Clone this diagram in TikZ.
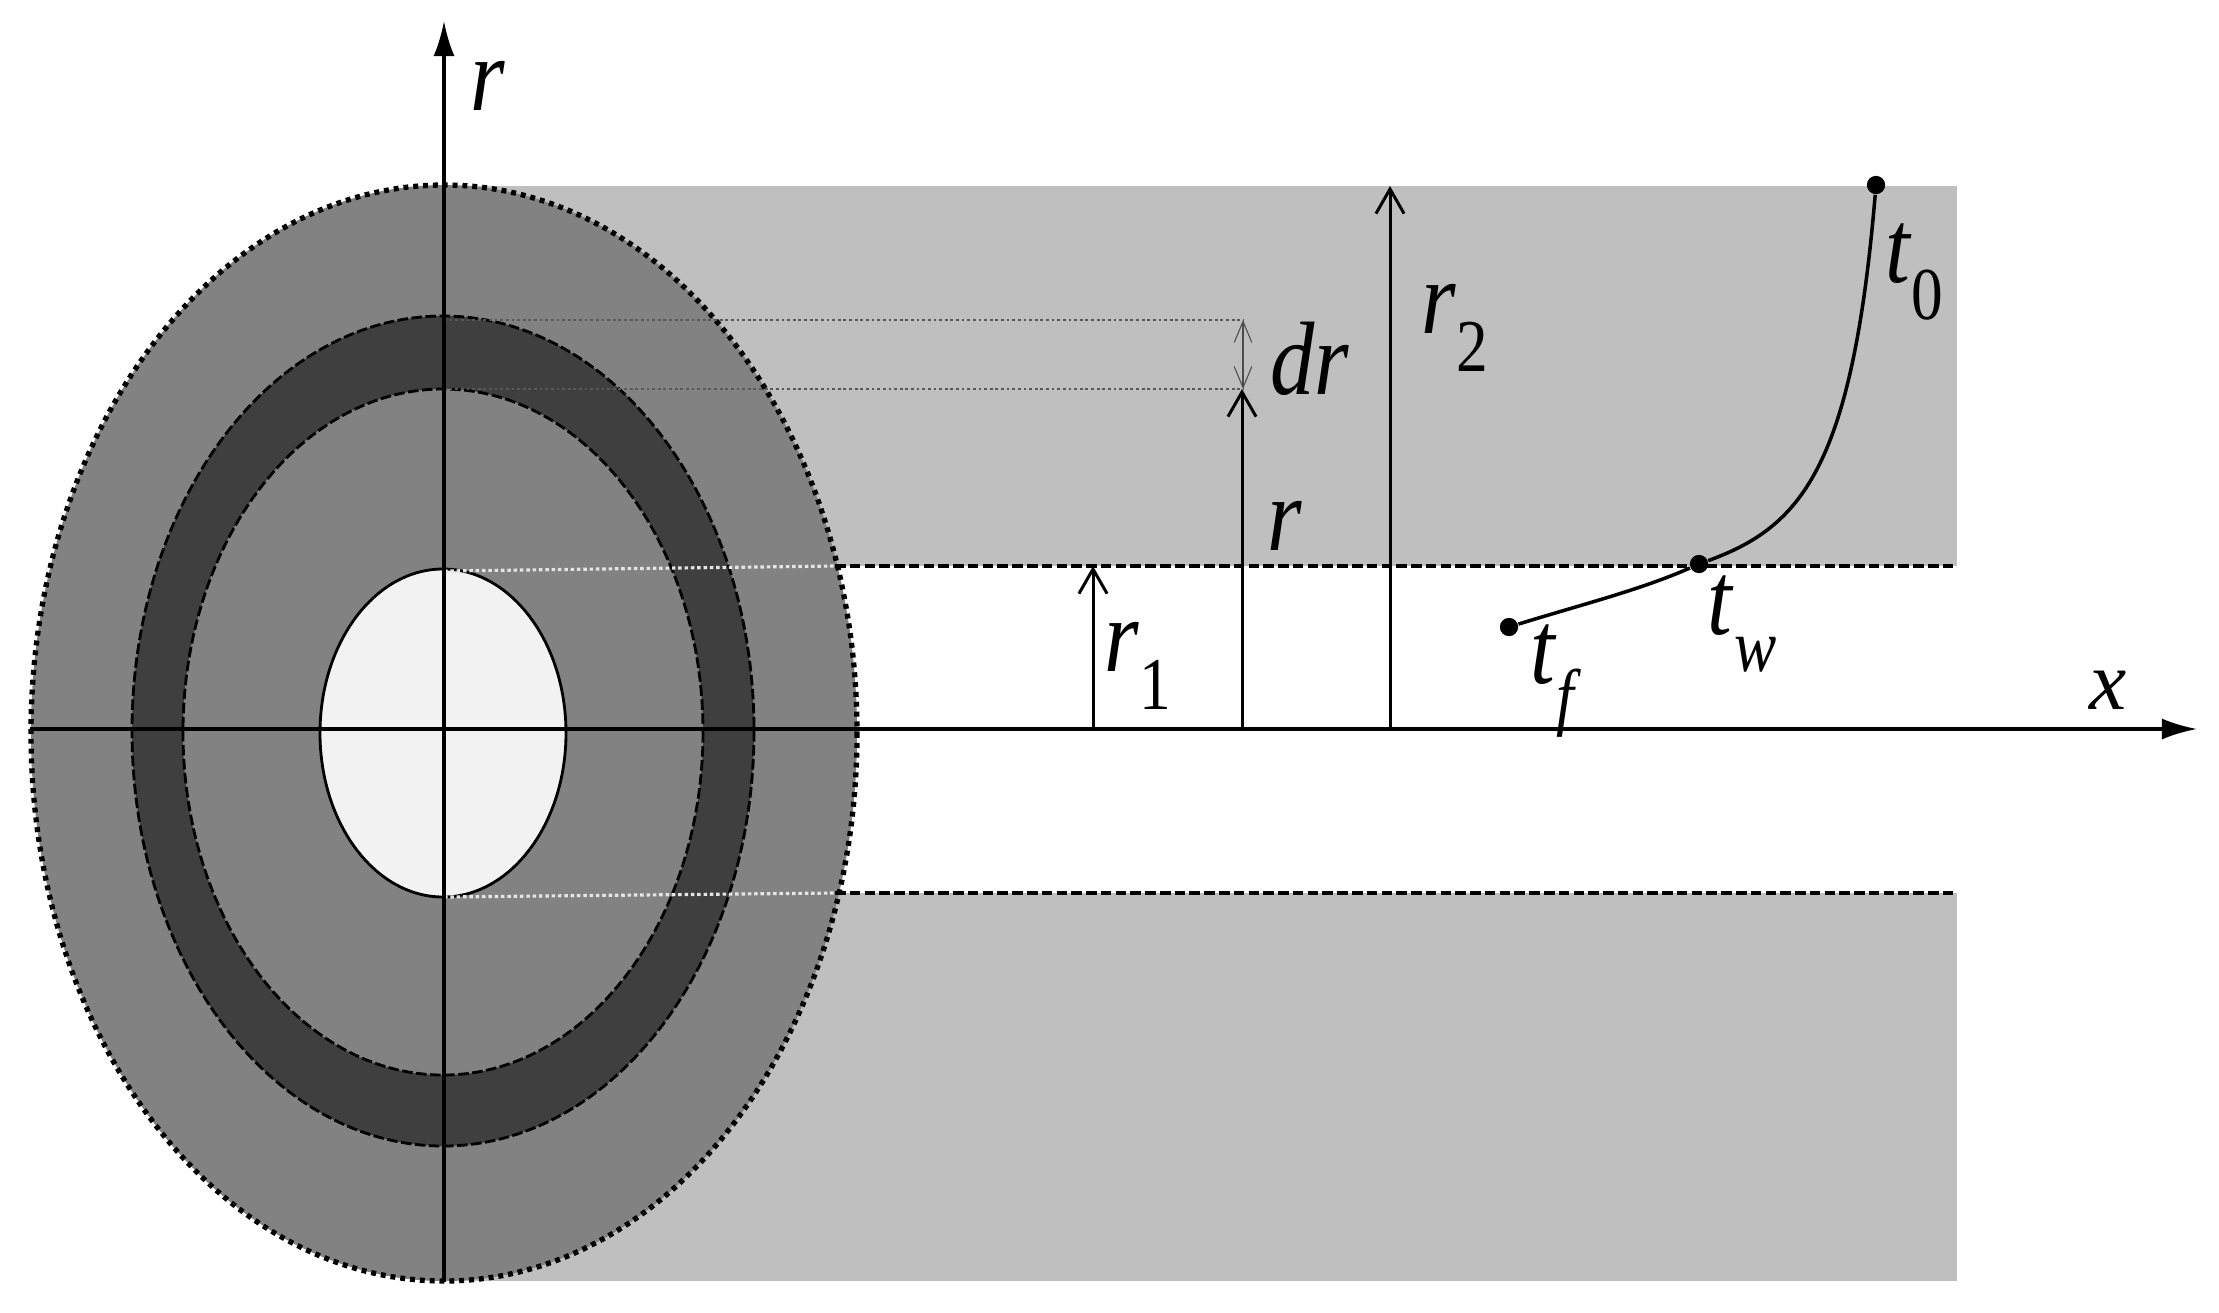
\documentclass[tikz,border=0pt]{standalone}
\usepackage{fontspec}
\usepackage{graphicx}
\setmainfont{Liberation Serif}
\usetikzlibrary{arrows.meta}

\newcommand{\slimtext}[1]{\scalebox{0.9}[1.06]{#1}}
\newcommand{\varsub}[2]{\slimtext{\textit{#1}\raisebox{-0.36em}{\fontsize{20}{20}\selectfont #2}}}

\begin{document}
\begin{tikzpicture}[
  x=0.01cm, y=-0.01cm,
  font=\fontsize{28}{30}\selectfont,
  lab/.style={inner sep=0pt},
  band/.style={fill=band},
  edgeline/.style={line width=1.1pt, dash pattern=on 3pt off 1.2pt},
  outerline/.style={line width=1.5pt, dash pattern=on 1.4pt off 1.4pt},
  ringline/.style={line width=0.8pt, dash pattern=on 3pt off 1pt},
  guide/.style={line width=0.5pt, black!65, dash pattern=on 0.8pt off 0.8pt},
  whiteline/.style={line width=0.9pt, white!90!black, dash pattern=on 1pt off 0.8pt},
  axis/.style={-{Latex[length=10pt,width=6pt]}, line width=0.9pt},
  arr/.style={-{Straight Barb[length=7pt,width=8pt]}, line width=0.85pt},
  thinarr/.style={{Straight Barb[length=6pt,width=5pt]}-{Straight Barb[length=6pt,width=5pt]}, line width=0.3pt, black!70},
  point/.style={circle, fill=black, inner sep=0pt, minimum size=5.2pt},
  curveline/.style={line width=1pt}
]
\definecolor{band}{HTML}{BFBFBF}
\definecolor{disc}{HTML}{828282}
\definecolor{ring}{HTML}{3F3F3F}
\definecolor{hole}{HTML}{F2F2F2}

\useasboundingbox (0,0) rectangle (2219,1312);

\coordinate (o) at (444,729);
\coordinate (xstart) at (30,729);
\coordinate (xend) at (2197,729);
\coordinate (rstart) at (444,1282);
\coordinate (rend) at (444,21);

\coordinate (topL) at (444,186);
\coordinate (topR) at (1957,186);
\coordinate (wallTL) at (835,566);
\coordinate (wallTR) at (1957,566);
\coordinate (wallBL) at (835,893);
\coordinate (wallBR) at (1957,893);
\coordinate (botL) at (444,1281);
\coordinate (botR) at (1957,1281);
\coordinate (axisL) at (857,729);
\coordinate (axisR) at (1957,729);

\fill[band] (topL) rectangle (wallTR);
\fill[band] (444,893) rectangle (botR);

\draw[outerline, fill=disc] (444,733) ellipse [x radius=413, y radius=548];
\draw[ringline, fill=ring] (443,731) ellipse [x radius=311, y radius=415];
\draw[ringline, fill=disc] (443,732) ellipse [x radius=260, y radius=343];
\draw[line width=0.8pt, fill=hole] (443,733) ellipse [x radius=123, y radius=164];

\coordinate (holeT) at (444,571);
\coordinate (holeB) at (444,897);
\coordinate (ringT) at (444,320);
\coordinate (ringB) at (444,389);
\coordinate (drT) at (1243,320);
\coordinate (drB) at (1243,389);

\draw[guide] (ringT) -- (drT);
\draw[guide] (ringB) -- (drB);
\draw[whiteline] (holeT) -- (wallTL);
\draw[whiteline] (holeB) -- (wallBL);
\draw[edgeline] (wallTL) -- (wallTR);
\draw[edgeline] (wallBL) -- (wallBR);
\draw[edgeline] (axisL) -- (axisR);

\draw[axis] (xstart) -- (xend);
\draw[axis] (rstart) -- (rend);

\coordinate (r1base) at (1093,729);
\coordinate (r1tip) at (1093,566);
\coordinate (rbase) at (1242,729);
\coordinate (rtip) at (1242,389);
\coordinate (r2base) at (1390,729);
\coordinate (r2tip) at (1390,186);

\draw[arr] (r1base) -- (r1tip);
\draw[arr] (rbase) -- (rtip);
\draw[arr] (r2base) -- (r2tip);
\draw[thinarr] (drB) -- (drT);

\node[point] (t0) at (1876,185) {};
\node[point] (tw) at (1699,564) {};
\node[point] (tf) at (1509,627) {};

\draw[curveline] (t0) .. controls (1852,470) and (1800,527) .. (tw);
\draw[curveline] (tw) .. controls (1640,590) and (1580,605) .. (tf);

\node[lab] (rlabel) at (488,86) {\slimtext{\textit{r}}};
\node[lab] (drlabel) at (1310,359) {\slimtext{\textit{dr}}};
\node[lab] (r2label) at (1455,328) {\varsub{r}{2}};
\node[lab] (rinner) at (1285,526) {\slimtext{\textit{r}}};
\node[lab] (r1label) at (1138,666) {\varsub{r}{1}};
\node[lab] (t0label) at (1914,272) {\varsub{t}{0}};
\node[lab] (twlabel) at (1742,624) {\varsub{t}{\textit{w}}};
\node[lab] (tflabel) at (1556,681) {\varsub{t}{\textit{f}}};
\node[lab] (xlabel) at (2108,690) {\scalebox{0.85}{\textit{x}}};

\end{tikzpicture}
\end{document}
